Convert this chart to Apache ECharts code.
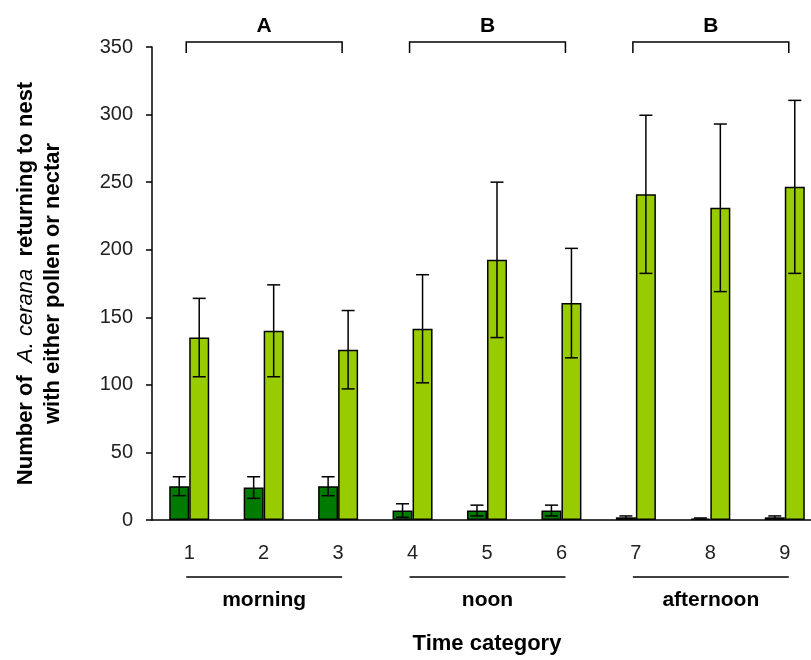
<!DOCTYPE html>
<html lang="en">
<head>
    <meta charset="UTF-8">
    <script src="https://cdn.jsdelivr.net/npm/echarts@6/dist/echarts.min.js"></script>
    <title>A. cerana foragers</title>
</head>
<style>
    body{
        width: 100%;
        height: 100%;
        margin: 0;
        padding: 0;
        background: #fff;
        overflow: hidden;
    }
</style>
<body>
<!-- plot runs past the right edge of the window, as in the original figure -->
<div id="main" style="width: 822px;height:660px;"></div>
</body>
<script>
    // time categories on the x axis
    var categories = ['1', '2', '3', '4', '5', '6', '7', '8', '9'];
    // dark bars and their error (+/-)
    var darkValues = [25, 24, 25, 7, 7, 7, 2, 1, 2];
    var darkErrors = [7, 8, 7, 5, 4, 4, 1, 0.5, 1];
    // light bars and their error (+/-)
    var lightValues = [135, 140, 126, 141.5, 192.5, 160.5, 241, 231, 246.5];
    var lightErrors = [29, 34, 29, 40, 57.5, 40.5, 58.5, 62, 64];
    // groups below the axis and letters above
    var periods = ['morning', 'noon', 'afternoon'];
    var periodStart = [0, 3, 6];
    var periodEnd = [2, 5, 8];
    var letters = ['A', 'B', 'B'];
    var yTicks = [0, 50, 100, 150, 200, 250, 300, 350];

    var BAR_W = 20;
    var FONT = 'Liberation Sans, Arial, sans-serif';

    function errorData(vals, errs) {
        var out = [];
        for (var i = 0; i < vals.length; i++) {
            out.push([i, vals[i] - errs[i], vals[i] + errs[i]]);
        }
        return out;
    }

    function errorRenderer(offset) {
        return function (params, api) {
            var lo = api.coord([api.value(0), api.value(1)]);
            var hi = api.coord([api.value(0), api.value(2)]);
            var x = lo[0] + offset;
            var cap = 6.5;
            var st = {stroke: '#000', lineWidth: 1.5};
            return {
                type: 'group',
                children: [
                    {type: 'line', shape: {x1: x, y1: lo[1], x2: x, y2: hi[1]}, style: st},
                    {type: 'line', shape: {x1: x - cap, y1: lo[1], x2: x + cap, y2: lo[1]}, style: st},
                    {type: 'line', shape: {x1: x - cap, y1: hi[1], x2: x + cap, y2: hi[1]}, style: st}
                ]
            };
        };
    }

    var chart = echarts.init(document.getElementById('main'));
    var option = {
        animation: false,
        backgroundColor: '#fff',
        grid: {left: 152, top: 47, right: 0, bottom: 138},
        xAxis: {
            type: 'category',
            data: categories,
            name: 'Time category',
            nameLocation: 'middle',
            nameGap: 113,
            nameTextStyle: {fontFamily: FONT, fontSize: 22, fontWeight: 'bold', color: '#000'},
            axisLine: {lineStyle: {color: '#000', width: 1.5}},
            axisTick: {length: 5, lineStyle: {color: '#000', width: 1.5}},
            axisLabel: {margin: 23, fontFamily: FONT, fontSize: 20, color: '#222'}
        },
        yAxis: {
            type: 'value',
            min: yTicks[0],
            max: yTicks[yTicks.length - 1],
            interval: 50,
            name: '{b|Number of  }{i|A. cerana}{b|  returning to nest}\n{b|with either pollen or nectar}',
            nameLocation: 'middle',
            nameGap: 86,
            nameTextStyle: {
                fontFamily: FONT, fontSize: 22, fontWeight: 'bold', color: '#000', lineHeight: 27,
                rich: {
                    b: {fontFamily: FONT, fontSize: 22, fontWeight: 'bold', color: '#000', lineHeight: 27},
                    i: {fontFamily: FONT, fontSize: 22, fontWeight: 'normal', fontStyle: 'italic', color: '#000', lineHeight: 27}
                }
            },
            splitLine: {show: false},
            axisLine: {show: true, lineStyle: {color: '#000', width: 1.5}},
            axisTick: {show: true, length: 6, lineStyle: {color: '#000', width: 1.5}},
            axisLabel: {margin: 19, fontFamily: FONT, fontSize: 20, color: '#222'}
        },
        series: [
            {
                name: 'dark',
                type: 'bar',
                data: darkValues,
                barWidth: BAR_W,
                barGap: '0%',
                itemStyle: {color: '#007a00', borderColor: '#000', borderWidth: 1.5}
            },
            {
                name: 'light',
                type: 'bar',
                data: lightValues,
                barWidth: BAR_W,
                barGap: '0%',
                itemStyle: {color: '#99cc00', borderColor: '#000', borderWidth: 1.5}
            },
            {
                type: 'custom',
                data: errorData(darkValues, darkErrors),
                encode: {x: 0, y: [1, 2]},
                renderItem: errorRenderer(-BAR_W / 2),
                z: 5
            },
            {
                type: 'custom',
                data: errorData(lightValues, lightErrors),
                encode: {x: 0, y: [1, 2]},
                renderItem: errorRenderer(BAR_W / 2),
                z: 5
            }
        ]
    };
    chart.setOption(option);

    // brackets on top and period lines below, placed with the axis scale
    var g = [];
    var lineSt = {stroke: '#000', lineWidth: 1.5};
    for (var k = 0; k < periods.length; k++) {
        var xa = chart.convertToPixel({xAxisIndex: 0}, periodStart[k]) - 3;
        var xb = chart.convertToPixel({xAxisIndex: 0}, periodEnd[k]) + 4;
        var mid = (xa + xb) / 2;
        var yTop = 42;
        g.push({type: 'polyline', shape: {points: [[xa, yTop + 11], [xa, yTop], [xb, yTop], [xb, yTop + 11]]}, style: {stroke: '#000', lineWidth: 1.5, fill: null}});
        g.push({type: 'text', x: mid, y: 26, style: {text: letters[k], font: 'bold 21px ' + FONT, fill: '#000', align: 'center', verticalAlign: 'middle'}});
        g.push({type: 'line', shape: {x1: xa, y1: 577, x2: xb, y2: 577}, style: lineSt});
        g.push({type: 'text', x: mid, y: 600, style: {text: periods[k], font: 'bold 21px ' + FONT, fill: '#000', align: 'center', verticalAlign: 'middle'}});
    }
    chart.setOption({graphic: g});
</script>
</html>
